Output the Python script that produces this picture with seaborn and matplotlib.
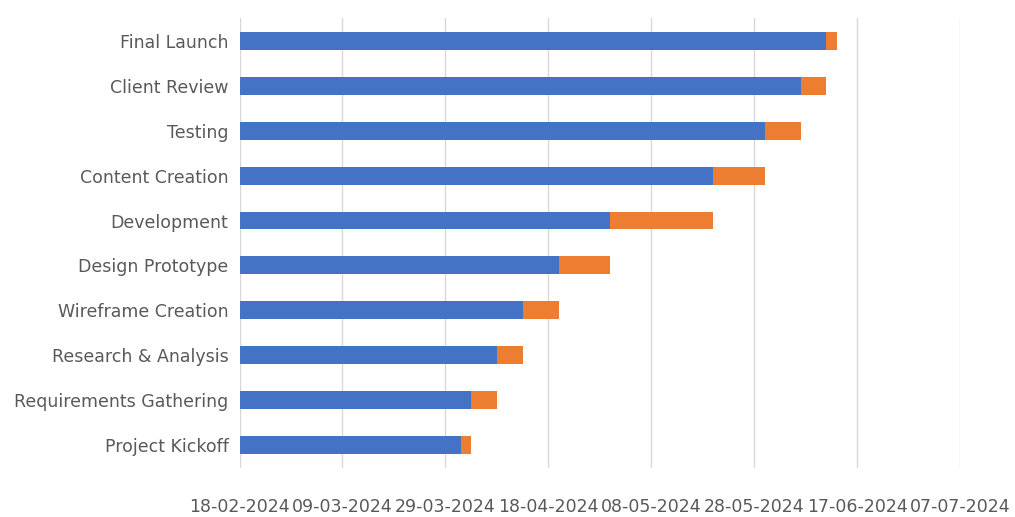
import matplotlib
matplotlib.use("Agg")
import matplotlib.pyplot as plt
import seaborn as sns
import pandas as pd

tasks = ["Project Kickoff", "Requirements Gathering", "Research & Analysis", "Wireframe Creation",
         "Design Prototype", "Development", "Content Creation", "Testing", "Client Review", "Final Launch"]
start_dates = ["01-04-2024", "03-04-2024", "08-04-2024", "13-04-2024", "20-04-2024",
               "30-04-2024", "20-05-2024", "30-05-2024", "06-06-2024", "11-06-2024"]
durations = [2, 5, 5, 7, 10, 20, 10, 7, 5, 2]

axis_min = pd.Timestamp("2024-02-18")
tick_dates = pd.date_range(axis_min, "2024-07-07", freq="20D")

df = pd.DataFrame({"Task": tasks, "Start": pd.to_datetime(start_dates, format="%d-%m-%Y"), "Duration": durations})
df["Offset"] = (df["Start"] - axis_min).dt.days
df["End"] = df["Offset"] + df["Duration"]
df = df.iloc[::-1]

fig = plt.figure(figsize=(10.15, 5.17), dpi=100)
ax = fig.add_axes([0.236, 0.095, 0.71, 0.87])
sns.barplot(data=df, y="Task", x="End", color="#ED7D31", width=0.4, ax=ax, saturation=1)
sns.barplot(data=df, y="Task", x="Offset", color="#4472C4", width=0.4, ax=ax, saturation=1)

ticks = [(d - axis_min).days for d in tick_dates]
ax.set_xlim(0, ticks[-1])
ax.set_xticks(ticks)
ax.set_xticklabels([d.strftime("%d-%m-%Y") for d in tick_dates])
ax.grid(axis="x", color="#D9D9D9", linewidth=1)
ax.set_axisbelow(True)
for s in ax.spines.values():
    s.set_visible(False)
ax.tick_params(length=0, labelsize=12.5, colors="#595959", pad=8)
ax.tick_params(axis="x", pad=22)
ax.set_xlabel("")
ax.set_ylabel("")
fig.savefig("out.png", dpi=100)
